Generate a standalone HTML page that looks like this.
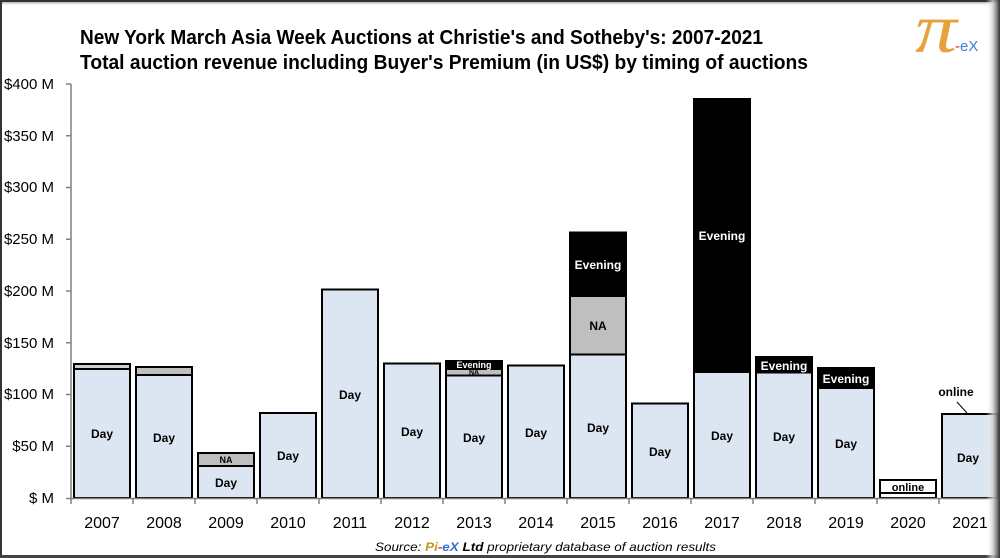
<!DOCTYPE html>
<html><head><meta charset="utf-8"><style>
html,body{margin:0;padding:0;background:#fff;}
#wrap{position:relative;width:1000px;height:558px;overflow:hidden;background:#fff;}
svg{position:absolute;left:0;top:0;}
</style></head><body><div id="wrap">
<svg width="1000" height="558" viewBox="0 0 1000 558" xmlns="http://www.w3.org/2000/svg" font-family="'Liberation Sans', sans-serif">
<defs>
<linearGradient id="rs" x1="0" x2="1" y1="0" y2="0">
<stop offset="0" stop-color="#ffffff" stop-opacity="0"/>
<stop offset="0.5" stop-color="#c8c8c8" stop-opacity="0.8"/>
<stop offset="1" stop-color="#303030"/>
</linearGradient>
<linearGradient id="ts" x1="0" x2="0" y1="0" y2="1">
<stop offset="0" stop-color="#404040"/>
<stop offset="1" stop-color="#ffffff" stop-opacity="0"/>
</linearGradient>
</defs>
<rect x="0" y="0" width="1000" height="558" fill="#fff"/>

<!-- Title -->
<text x="80" y="44" font-size="20" font-weight="bold" fill="#000" textLength="683" lengthAdjust="spacingAndGlyphs">New York March Asia Week Auctions at Christie's and Sotheby's: 2007-2021</text>
<text x="80" y="69" font-size="20" font-weight="bold" fill="#000" textLength="728" lengthAdjust="spacingAndGlyphs">Total auction revenue including Buyer's Premium (in US$) by timing of auctions</text>

<!-- Logo -->
<text x="915" y="52" font-family="'Liberation Serif', serif" font-style="italic" font-size="70" fill="#e9a23b" textLength="42" lengthAdjust="spacingAndGlyphs">π</text>
<text x="955" y="51" font-size="15" fill="#3b7ddd"><tspan fill="#e02020">-</tspan>eX</text>

<!-- Y axis labels -->
<g font-size="15" fill="#000" text-anchor="end">
<text x="54" y="89">$400 M</text>
<text x="54" y="141">$350 M</text>
<text x="54" y="192">$300 M</text>
<text x="54" y="244">$250 M</text>
<text x="54" y="296">$200 M</text>
<text x="54" y="348">$150 M</text>
<text x="54" y="399">$100 M</text>
<text x="54" y="451">$50 M</text>
<text x="54" y="503">$ M</text>
</g>

<!-- Bars -->
<g stroke="#000" stroke-width="2">
<!-- 2007 -->
<rect x="74" y="369" width="56" height="129" fill="#dce6f2"/>
<rect x="74" y="364" width="56" height="5" fill="#d0d0d0"/>
<!-- 2008 -->
<rect x="136" y="375" width="56" height="123" fill="#dce6f2"/>
<rect x="136" y="367" width="56" height="8" fill="#bfbfbf"/>
<!-- 2009 -->
<rect x="198" y="466" width="56" height="32" fill="#dce6f2"/>
<rect x="198" y="453" width="56" height="13" fill="#bfbfbf"/>
<!-- 2010 -->
<rect x="260" y="413" width="56" height="85" fill="#dce6f2"/>
<!-- 2011 -->
<rect x="322" y="289.5" width="56" height="208.5" fill="#dce6f2"/>
<!-- 2012 -->
<rect x="384" y="363.5" width="56" height="134.5" fill="#dce6f2"/>
<!-- 2013 -->
<rect x="446" y="375.5" width="56" height="122.5" fill="#dce6f2"/>
<rect x="446" y="369" width="56" height="6.5" fill="#bfbfbf"/>
<rect x="446" y="361" width="56" height="8" fill="#000"/>
<!-- 2014 -->
<rect x="508" y="365.5" width="56" height="132.5" fill="#dce6f2"/>
<!-- 2015 -->
<rect x="570" y="354.5" width="56" height="143.5" fill="#dce6f2"/>
<rect x="570" y="296" width="56" height="58.5" fill="#bfbfbf"/>
<rect x="570" y="232.5" width="56" height="63.5" fill="#000"/>
<!-- 2016 -->
<rect x="632" y="403.5" width="56" height="94.5" fill="#dce6f2"/>
<!-- 2017 -->
<rect x="694" y="372" width="56" height="126" fill="#dce6f2"/>
<rect x="694" y="99" width="56" height="273" fill="#000"/>
<!-- 2018 -->
<rect x="756" y="372.5" width="56" height="125.5" fill="#dce6f2"/>
<rect x="756" y="357" width="56" height="15.5" fill="#000"/>
<!-- 2019 -->
<rect x="818" y="388" width="56" height="110" fill="#dce6f2"/>
<rect x="818" y="368" width="56" height="20" fill="#000"/>
<!-- 2020 -->
<rect x="880" y="493" width="56" height="5" fill="#fff"/>
<rect x="880" y="480" width="56" height="13" fill="#fff"/>
<!-- 2021 -->
<rect x="942" y="414" width="56" height="84" fill="#dce6f2"/>
</g>

<!-- Leader line 2021 -->
<line x1="957" y1="402" x2="967" y2="413" stroke="#000" stroke-width="1"/>

<!-- Axes -->
<g stroke="#808080" stroke-width="1.5">
<line x1="71" y1="84" x2="71" y2="498.5"/>
<line x1="71" y1="498.5" x2="1000" y2="498.5"/>
<line x1="66" y1="84" x2="71" y2="84"/>
<line x1="66" y1="135.75" x2="71" y2="135.75"/>
<line x1="66" y1="187.5" x2="71" y2="187.5"/>
<line x1="66" y1="239.25" x2="71" y2="239.25"/>
<line x1="66" y1="291" x2="71" y2="291"/>
<line x1="66" y1="342.75" x2="71" y2="342.75"/>
<line x1="66" y1="394.5" x2="71" y2="394.5"/>
<line x1="66" y1="446.25" x2="71" y2="446.25"/>
<line x1="66" y1="498.5" x2="71" y2="498.5"/>
<line x1="71" y1="498" x2="71" y2="504"/>
<line x1="133" y1="498" x2="133" y2="504"/>
<line x1="195" y1="498" x2="195" y2="504"/>
<line x1="257" y1="498" x2="257" y2="504"/>
<line x1="319" y1="498" x2="319" y2="504"/>
<line x1="381" y1="498" x2="381" y2="504"/>
<line x1="443" y1="498" x2="443" y2="504"/>
<line x1="505" y1="498" x2="505" y2="504"/>
<line x1="567" y1="498" x2="567" y2="504"/>
<line x1="629" y1="498" x2="629" y2="504"/>
<line x1="691" y1="498" x2="691" y2="504"/>
<line x1="753" y1="498" x2="753" y2="504"/>
<line x1="815" y1="498" x2="815" y2="504"/>
<line x1="877" y1="498" x2="877" y2="504"/>
<line x1="939" y1="498" x2="939" y2="504"/>
</g>

<!-- Segment labels -->
<g font-size="12" font-weight="bold" text-anchor="middle" fill="#000">
<text x="102" y="438">Day</text>
<text x="164" y="442">Day</text>
<text x="226" y="487">Day</text>
<text x="226" y="463" font-size="9">NA</text>
<text x="288" y="460">Day</text>
<text x="350" y="399">Day</text>
<text x="412" y="436">Day</text>
<text x="474" y="442">Day</text>
<text x="474" y="374.5" font-size="7">NA</text>
<text x="474" y="368" font-size="9" fill="#fff">Evening</text>
<text x="536" y="437">Day</text>
<text x="598" y="432">Day</text>
<text x="598" y="330">NA</text>
<text x="598" y="269" fill="#fff">Evening</text>
<text x="660" y="456">Day</text>
<text x="722" y="440">Day</text>
<text x="722" y="240" fill="#fff">Evening</text>
<text x="784" y="441">Day</text>
<text x="784" y="370" fill="#fff">Evening</text>
<text x="846" y="448">Day</text>
<text x="846" y="383" fill="#fff">Evening</text>
<text x="908" y="491" font-size="11">online</text>
<text x="968" y="462">Day</text>
<text x="956" y="396">online</text>
</g>

<!-- X labels -->
<g font-size="16" text-anchor="middle" fill="#000">
<text x="102" y="528">2007</text>
<text x="164" y="528">2008</text>
<text x="226" y="528">2009</text>
<text x="288" y="528">2010</text>
<text x="350" y="528">2011</text>
<text x="412" y="528">2012</text>
<text x="474" y="528">2013</text>
<text x="536" y="528">2014</text>
<text x="598" y="528">2015</text>
<text x="660" y="528">2016</text>
<text x="722" y="528">2017</text>
<text x="784" y="528">2018</text>
<text x="846" y="528">2019</text>
<text x="908" y="528">2020</text>
<text x="970" y="528">2021</text>
</g>

<!-- Source -->
<text x="375" y="551" font-size="12" font-style="italic" fill="#000" textLength="341" lengthAdjust="spacingAndGlyphs">Source:  <tspan fill="#c8961e" font-weight="bold">Pi</tspan><tspan fill="#e02020" font-weight="bold">-</tspan><tspan fill="#2f6fd0" font-weight="bold">eX</tspan> <tspan font-weight="bold">Ltd</tspan> proprietary database of auction results</text>

<!-- Frame -->
<rect x="0" y="0" width="1000" height="6" fill="url(#ts)"/>
<rect x="0" y="0" width="1000" height="2" fill="#333"/>
<rect x="0" y="0" width="2" height="558" fill="#333"/>
<rect x="0" y="555" width="1000" height="3" fill="#444"/>
<rect x="986" y="0" width="14" height="558" fill="url(#rs)"/>
</svg>
</div></body></html>
